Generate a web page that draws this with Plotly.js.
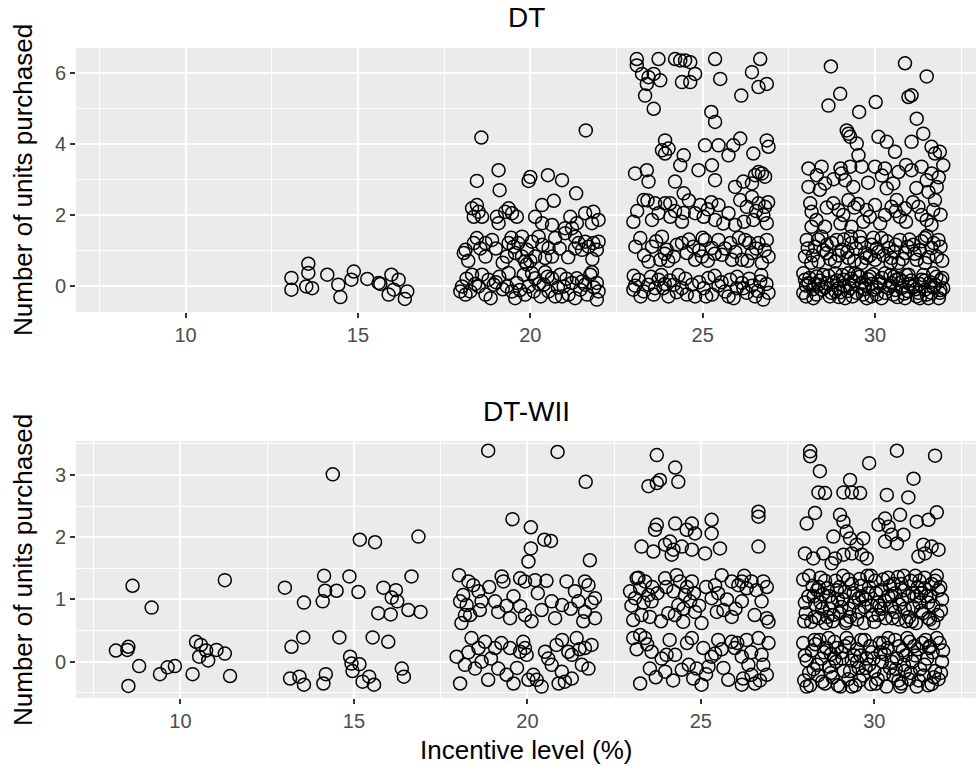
<!DOCTYPE html>
<html>
<head>
<meta charset="utf-8">
<script src="https://cdn.plot.ly/plotly-3.0.1.min.js"></script>
<style>html,body{margin:0;padding:0;background:#fff}#chart{width:976px;height:767px}</style>
</head>
<body>
<div id="chart"></div>
<script>
// ---- Tick labels ----
const xTickVals = [10, 15, 20, 25, 30];
const dtYTicks = [0, 2, 4, 6];
const wiiYTicks = [0, 1, 2, 3];

// ---- DT panel: [incentive level (%), units purchased] ----
const dtLevel15 = [[13.07,0.22],[13.07,-0.11],[13.56,0.62],[13.56,0.36],[13.5,-0.02],[13.67,-0.07],[14.11,0.31],[14.43,0.03],[14.49,-0.32],[14.88,0.4],[14.81,0.17],[15.27,0.19],[15.6,0.08],[15.65,0.05],[15.97,0.31],[16.18,0.17],[15.89,-0.25],[16.04,-0.11],[16.43,-0.16],[16.36,-0.37]];

const dtLevel20 = [[18.58,4.17],[21.61,4.37],[19.08,3.25],[18.45,2.95],[19.11,2.69],[20.0,3.06],[19.95,2.95],[20.51,3.11],[20.92,2.97],[21.33,2.6],[20.68,2.39],[20.34,2.27],
[18.31,2.18],[18.5,2.08],[18.36,1.94],[18.6,1.94],[18.45,2.27],[19.37,2.18],[19.47,2.04],[19.61,1.94],[19.27,2.08],[19.08,1.76],[19.03,1.94],
[20.14,1.94],[20.34,1.76],[20.63,1.71],[21.16,1.94],[21.35,1.76],[21.01,1.62],[21.59,2.04],[21.83,2.08],[21.98,1.85],[21.79,1.76],
[18.12,1.01],[18.07,0.92],[18.45,1.34],[18.7,1.2],[18.7,0.82],[18.89,1.29],[18.36,1.2],
[19.37,1.2],[19.52,1.1],[19.56,0.92],[19.32,0.82],[19.76,1.38],[19.9,1.01],[20.05,1.24],[20.24,1.38],[20.53,1.06],[20.43,0.78],[20.63,0.82],[20.14,0.82],[20.72,1.34],
[21.01,1.48],[21.21,1.62],[21.4,1.2],[21.59,1.24],[21.69,1.1],[21.83,1.2],[21.93,1.01],[21.5,1.01],[21.98,1.24],[21.3,1.38],
[18.2,0.7],[18.55,1.05],[19.0,1.05],[19.2,0.65],[19.65,1.2],[20.0,0.7],[20.35,1.15],[20.85,1.05],[21.1,0.8],[21.3,1.05],[21.8,0.75],[19.45,1.35],
[17.97,-0.16],[18.12,-0.25],[18.02,-0.02],[18.26,-0.16],[18.31,0.31],[18.6,0.31],[18.5,-0.02],[18.7,-0.25],[18.94,0.03],[18.79,0.17],
[19.37,0.36],[19.32,-0.02],[19.47,-0.16],[19.61,0.08],[19.56,-0.35],[19.81,0.31],[19.9,0.6],[19.95,-0.02],[20.1,-0.16],[20.14,0.21],[19.85,-0.25],[19.76,0.82],[19.85,0.68],
[20.43,0.38],[20.39,0.03],[20.53,-0.16],[20.63,0.21],[20.72,-0.3],[20.87,0.31],[20.97,-0.02],[20.92,-0.3],
[21.21,0.08],[21.35,0.21],[21.45,-0.11],[21.3,-0.35],[21.59,0.03],[21.74,0.31],[21.79,0.38],[21.93,0.08],[21.98,-0.16],[21.93,-0.39],[21.5,0.12],[21.11,-0.25],
[18.15,0.2],[18.4,0.05],[18.85,-0.35],[19.1,0.25],[19.2,-0.1],[19.7,-0.12],[20.05,0.35],[20.3,-0.3],[20.5,0.25],[20.8,-0.05],[21.05,0.2],[21.65,-0.25],[21.85,-0.05],[19.0,0.1],[20.25,0.05]];

const dtLevel25 = [[23.09,6.38],[23.09,6.2],[23.72,6.38],[24.2,6.38],[24.35,6.34],[24.49,6.34],[24.64,6.29],[24.78,5.96],[24.4,5.73],[24.64,5.73],[23.24,5.96],[23.43,5.87],[23.58,5.96],[23.77,5.78],[23.38,5.68],[23.33,5.35],[23.58,4.98],[25.36,6.38],[25.51,5.82],[26.12,5.35],[26.67,6.38],[26.43,6.01],[26.62,5.59],[26.86,5.68],[25.25,4.89],[25.36,4.61],
[23.91,4.09],[23.82,3.81],[23.91,3.72],[24.01,3.86],[24.45,3.67],[24.35,3.39],[25.07,3.95],[25.46,3.95],[25.75,3.67],[25.89,3.95],[26.09,4.14],[26.47,3.72],[26.86,4.09],[26.91,3.91],[24.88,3.25],[25.27,3.39],[25.36,2.97],
[23.04,3.16],[23.38,3.25],[23.43,2.93],[24.2,2.93],[24.45,2.6],[25.94,2.78],[26.18,2.93],[26.52,3.11],[26.72,3.16],[26.62,3.2],[26.81,3.07],[26.43,2.88],
[23.29,2.41],[22.99,1.8],[23.62,2.32],[23.91,2.32],[24.06,2.32],[23.72,2.04],[23.53,1.85],[24.06,1.94],[24.4,1.8],[24.93,2.27],[24.78,2.04],[25.03,1.94],[25.46,2.27],[25.36,1.85],[25.75,2.04],[26.09,2.41],[26.28,2.22],[26.43,2.5],[26.62,2.32],[26.81,2.22],[26.76,1.99],[26.47,1.85],[26.86,1.76],[25.94,1.71],
[23.1,2.1],[23.4,2.4],[24.2,2.1],[24.6,2.4],[25.15,2.15],[25.6,1.75],[26.2,1.8],[26.55,2.1],[26.9,2.35],[24.45,2.05],[25.25,2.35],
[23.19,1.34],[23.53,1.1],[23.43,0.68],[23.82,1.38],[23.96,1.01],[24.16,0.82],[24.4,1.2],[24.54,0.92],[24.73,1.1],[24.78,0.73],[25.07,1.29],[25.27,1.06],[25.56,0.87],[25.46,1.29],[25.8,1.2],[25.85,0.73],[26.23,1.29],[26.43,0.92],[26.62,1.2],[26.86,1.29],[26.91,0.82],[26.72,0.64],[26.14,0.73],[23.77,0.73],[24.98,0.82],
[23.05,1.1],[23.3,0.85],[23.65,1.25],[24.0,0.7],[24.25,1.15],[24.6,1.3],[24.9,1.0],[25.15,0.7],[25.35,0.9],[25.65,1.05],[25.95,0.95],[26.05,1.35],[26.3,0.7],[26.55,1.05],[26.8,1.0],[23.9,0.9],[25.0,1.35],[26.35,1.2],
[23.04,0.0],[23.14,0.17],[23.29,-0.16],[23.43,0.03],[23.58,-0.25],[23.72,0.17],[23.86,-0.07],[24.01,-0.3],[24.16,0.03],[24.4,-0.07],[24.54,-0.25],[24.78,-0.3],[24.69,0.03],[25.03,-0.07],[25.17,0.22],[25.27,-0.25],[25.46,0.0],[25.65,-0.16],[25.8,0.17],[25.99,-0.07],[26.14,0.08],[26.28,-0.2],[26.43,0.0],[26.52,-0.3],[26.67,0.12],[26.91,-0.2],[26.76,-0.39],[22.99,-0.11],[23.62,-0.07],[26.18,-0.07],
[23.2,-0.3],[23.5,0.25],[23.8,0.3],[24.05,0.15],[24.25,-0.18],[24.5,0.2],[24.9,0.1],[25.1,-0.3],[25.35,0.28],[25.55,0.1],[25.75,-0.3],[26.0,0.25],[26.35,0.2],[26.6,-0.15],[26.85,0.05],[23.0,0.28],[24.3,0.3],[25.9,-0.35],[26.7,0.3],[23.9,0.05]];

const dtLevel30 = [[28.72,6.17],[30.87,6.26],[31.5,5.89],[28.99,5.4],[28.65,5.07],[29.54,4.89],[30.02,5.17],[30.97,5.31],[31.06,5.36],[31.21,4.7],
[29.18,4.37],[29.23,4.28],[29.28,4.19],[29.47,4.0],[30.1,4.19],[30.34,4.05],[30.58,3.77],[31.06,4.05],[31.4,4.28],[31.64,3.91],[31.88,3.77],[31.98,3.39],[31.74,3.72],
[28.07,3.3],[28.45,3.35],[28.07,2.78],[28.31,3.11],[28.55,2.88],[29.03,3.16],[29.28,3.35],[29.52,3.67],[29.61,3.35],[29.13,2.97],[29.37,2.78],[30.0,3.35],[30.29,3.3],[30.68,3.2],[30.53,2.88],[31.06,3.25],[31.35,3.35],[31.5,2.97],[31.64,3.16],[31.79,2.78],[31.55,2.64],[30.34,2.74],
[28.4,2.7],[29.8,2.9],[30.2,3.1],[31.2,2.75],[29.0,3.3],[31.85,3.05],[30.9,3.4],[28.8,3.0],
[28.12,2.32],[28.16,2.08],[28.55,1.66],[28.79,2.32],[28.94,2.13],[29.08,1.99],[29.23,2.41],[29.76,2.13],[29.85,1.94],[30.0,2.27],[29.66,1.8],[30.29,1.99],[30.48,2.22],[30.63,2.41],[30.72,1.94],[30.87,2.18],[31.26,2.22],[31.35,1.99],[31.5,1.85],[31.69,2.13],[31.74,2.41],[31.64,1.71],[28.16,1.66],[29.32,1.66],
[28.3,1.85],[28.6,2.2],[29.0,1.75],[29.5,2.3],[30.15,1.75],[30.9,1.8],[31.1,2.35],[31.9,2.0],[29.4,2.2],[30.6,2.1],
[28.02,1.29],[27.97,0.82],[28.26,1.1],[28.45,1.38],[28.6,0.92],[28.36,0.68],[28.89,1.29],[29.03,1.01],[29.23,0.78],[29.32,1.2],[29.56,1.38],[29.71,0.92],[29.9,1.15],[30.0,0.73],[30.19,1.34],[30.39,1.06],[30.48,0.78],[30.72,1.29],[30.87,0.92],[31.11,1.15],[31.21,0.73],[31.45,1.34],[31.64,1.06],[31.79,0.82],[31.84,1.29],[28.84,0.68],[29.61,0.64],[30.68,0.64],[31.45,0.64],
[28.2,0.85],[28.75,1.2],[29.45,1.05],[30.1,0.95],[30.6,1.15],[31.3,1.0],[31.9,1.1],[29.85,0.85],[28.5,1.0],[31.0,1.3],
[28.05,1.05],[28.15,0.65],[28.35,1.3],[28.6,1.15],[28.7,0.75],[28.95,0.85],[29.1,1.3],[29.2,0.95],[29.4,0.7],[29.6,1.2],[29.75,0.78],[29.95,1.35],[30.05,1.05],[30.25,0.85],[30.35,1.25],[30.55,0.95],[30.8,0.75],[30.95,1.1],[31.15,0.9],[31.35,1.25],[31.55,0.8],[31.7,1.2],[31.95,0.7],[31.5,1.4],[29.3,1.38],[30.45,0.65],
[27.92,0.35],[27.92,-0.2],[28.07,0.07],[28.21,-0.35],[28.31,0.26],[28.45,-0.11],[28.6,0.07],[28.69,-0.3],[28.84,0.35],[28.94,-0.07],[29.08,0.17],[29.13,-0.35],[29.28,-0.07],[29.42,0.35],[29.47,-0.2],[29.61,0.07],[29.76,-0.35],[29.85,0.26],[29.95,-0.11],[30.1,0.12],[30.19,-0.35],[30.29,0.35],[30.39,-0.07],[30.53,-0.25],[30.63,0.17],[30.77,-0.07],[30.87,-0.35],[30.97,0.31],[31.11,-0.02],[31.21,-0.3],[31.35,0.17],[31.45,-0.11],[31.55,-0.35],[31.69,0.35],[31.74,0.03],[31.88,-0.2],[31.98,-0.07],[27.97,0.17],[28.36,0.03],[28.74,-0.2],[29.23,0.35],[29.71,0.03],[30.48,0.07],[31.26,-0.2],[31.64,-0.2],
[28.0,-0.3],[28.5,0.3],[28.9,0.15],[29.35,-0.3],[29.9,0.05],[30.45,0.3],[30.95,-0.15],[31.4,0.3],[31.9,0.15],[28.25,0.05],[29.55,0.25],[30.7,0.2],[31.3,-0.35],[29.0,-0.18],[30.05,-0.25],
[28.1,0.22],[28.3,-0.25],[28.55,-0.05],[28.65,0.28],[28.8,0.1],[28.95,-0.32],[29.1,0.0],[29.2,-0.15],[29.38,0.12],[29.5,0.3],[29.65,-0.25],[29.8,0.18],[29.95,0.32],[30.05,-0.05],[30.2,0.22],[30.3,-0.2],[30.42,0.0],[30.55,0.25],[30.65,-0.32],[30.8,0.12],[30.9,0.3],[31.05,0.15],[31.18,-0.1],[31.3,0.05],[31.5,-0.25],[31.6,0.1],[31.78,0.25],[31.85,-0.35],[31.95,0.22],[28.0,0.0],[28.4,0.15],[28.85,-0.15],[29.3,0.2],[29.7,-0.1],[30.15,0.05],[30.6,-0.12],[31.0,0.05],[31.45,0.15],[31.9,-0.12],[28.2,-0.1],[29.05,0.3],[29.9,-0.3],[30.85,-0.22],[31.7,-0.05]];

// ---- DT-WII panel ----
const wiiLevel10 = [[8.14,0.18],[8.47,0.19],[8.5,0.24],[8.62,1.22],[8.5,-0.39],[8.81,-0.07],[9.17,0.87],[9.41,-0.2],[9.63,-0.09],[9.84,-0.07],[10.35,-0.2],[10.45,0.32],[10.59,0.27],[10.54,0.08],[10.74,0.18],[10.8,0.02],[11.04,0.19],[11.28,0.13],[11.28,1.31],[11.43,-0.23]];

const wiiLevel15 = [[14.39,3.01],[15.17,1.96],[15.61,1.92],[16.86,2.01],[13.01,1.19],[14.14,1.38],[14.17,1.14],[14.5,1.14],[14.1,0.97],[13.56,0.95],[14.87,1.37],[15.13,1.12],[15.85,1.19],[16.21,1.15],[16.09,1.03],[16.25,0.97],[16.66,1.37],[16.57,0.83],[16.92,0.8],[15.7,0.78],[16.06,0.76],
[13.54,0.39],[13.2,0.24],[14.58,0.39],[15.54,0.39],[15.99,0.32],[14.89,0.08],[14.93,-0.03],[15.16,-0.04],[14.96,-0.15],[13.16,-0.27],[13.43,-0.24],[13.56,-0.37],[14.19,-0.2],[14.12,-0.35],[15.25,-0.32],[15.44,-0.24],[15.58,-0.37],[16.38,-0.11],[16.44,-0.24]];

const wiiLevel20 = [[18.87,3.39],[20.87,3.37],[21.68,2.89],[19.57,2.29],[20.1,2.16],[20.49,1.96],[20.68,1.94],[20.1,1.82],[20.03,1.61],[21.8,1.63],
[18.03,1.39],[18.3,1.29],[18.44,1.23],[18.59,1.13],[18.15,1.07],[18.06,0.97],[18.25,0.91],[18.2,0.75],[18.1,0.62],[18.63,0.83],[19.26,1.37],[19.31,1.29],[19.07,0.97],[19.16,0.8],[19.5,0.7],[19.79,1.34],[19.93,1.29],[20.22,1.31],[19.79,0.89],[19.93,0.75],[20.12,0.65],[20.41,0.83],[20.7,0.97],[20.8,0.7],[21.0,0.91],[21.13,1.29],[21.37,1.13],[21.66,1.29],[21.76,1.23],[21.47,0.97],[21.95,1.02],[21.66,0.8],[21.95,0.7],[21.61,0.65],[18.68,0.97],
[18.35,0.75],[18.9,1.2],[19.6,1.05],[20.3,1.1],[20.55,1.3],[21.25,0.85],[21.85,0.95],[19.4,0.9],
[17.96,0.08],[18.2,-0.05],[18.06,-0.35],[18.39,0.38],[18.59,0.22],[18.78,0.32],[18.49,-0.11],[18.68,0.0],[18.87,-0.29],[19.07,0.22],[19.16,-0.11],[19.4,-0.21],[19.5,0.22],[19.79,0.16],[19.93,0.22],[19.98,0.11],[20.03,-0.29],[19.88,0.32],[20.27,-0.29],[20.41,-0.4],[20.51,0.16],[20.7,-0.05],[20.84,0.27],[20.99,-0.16],[21.08,-0.32],[21.18,0.16],[21.28,0.11],[21.42,0.38],[21.57,-0.05],[21.66,0.22],[21.85,0.27],[21.76,-0.11],[21.28,-0.27],[20.17,-0.21],
[18.3,0.15],[18.95,0.05],[19.25,0.3],[19.7,-0.1],[20.6,0.05],[21.0,0.35],[21.5,0.2],[20.9,-0.35],[19.6,-0.35]];

const wiiLevel25 = [[23.73,3.32],[24.26,3.12],[23.49,2.82],[23.73,2.87],[23.82,2.92],[24.35,2.89],[26.66,2.41],[26.66,2.33],[26.66,1.85],
[23.73,2.2],[23.68,2.12],[24.26,2.22],[24.74,2.22],[24.59,2.12],[24.83,2.06],[25.31,2.28],[25.31,2.06],[23.29,1.85],[23.63,1.77],[23.97,1.88],[24.11,1.93],[24.21,1.8],[24.16,1.72],[24.45,1.85],[24.74,1.8],[25.12,1.74],[25.55,1.82],
[23.15,1.34],[23.39,1.29],[22.96,1.13],[23.1,1.02],[23.25,1.18],[23.49,1.07],[23.58,0.97],[23.05,0.67],[23.29,0.75],[23.53,0.72],[23.97,1.34],[24.3,1.39],[24.4,1.29],[24.21,1.13],[24.06,0.78],[24.35,0.91],[24.49,0.64],[24.54,1.07],[24.69,0.97],[24.74,1.29],[24.83,0.8],[25.02,0.62],[25.31,1.02],[25.41,1.23],[25.6,1.39],[25.46,0.8],[25.65,0.83],[25.89,1.29],[26.08,1.23],[26.18,1.29],[26.32,1.18],[26.46,1.29],[26.18,0.97],[25.89,0.72],[26.75,0.97],[26.9,0.7],[26.8,1.29],[26.95,0.64],
[23.0,0.9],[23.2,1.35],[23.35,0.95],[23.6,1.2],[23.75,1.1],[23.85,0.65],[24.0,1.2],[24.25,0.75],[24.6,1.2],[24.8,1.1],[24.95,0.9],[25.15,1.2],[25.5,1.1],[25.75,1.0],[26.0,0.85],[26.25,1.38],[26.55,0.75],[26.6,1.15],[26.9,1.2],[24.5,0.85],
[23.05,0.38],[23.25,0.43],[23.39,0.38],[23.58,0.16],[23.87,0.05],[24.01,0.11],[24.26,0.11],[23.53,-0.11],[23.97,-0.16],[23.25,-0.35],[24.45,-0.13],[24.74,0.38],[24.88,-0.11],[24.78,-0.27],[25.02,-0.37],[25.07,0.22],[25.31,0.08],[25.41,0.13],[25.5,0.35],[25.22,-0.08],[25.79,-0.29],[25.89,0.32],[25.98,0.22],[26.18,0.08],[26.32,0.35],[26.37,-0.05],[26.22,-0.27],[26.18,-0.37],[26.46,-0.21],[26.66,0.38],[26.75,0.11],[26.9,-0.21],[26.56,-0.35],[26.8,-0.05],
[23.15,0.2],[23.45,0.28],[23.7,-0.25],[24.2,-0.3],[24.6,0.3],[24.65,-0.05],[25.15,-0.2],[25.6,0.2],[25.65,-0.1],[26.05,0.3],[26.45,0.15],[26.7,-0.3],[26.95,0.3],[24.1,0.35]];

const wiiLevel30 = [[28.15,3.38],[28.15,3.3],[30.65,3.39],[31.75,3.31],[29.85,3.19],[28.43,3.06],[31.13,2.94],[29.3,2.92],[28.39,2.72],[28.58,2.71],[29.11,2.72],[29.35,2.72],[29.59,2.71],[30.36,2.68],[30.98,2.64],
[28.05,2.22],[28.29,2.39],[29.01,2.36],[29.11,2.25],[28.82,2.01],[29.2,2.09],[29.3,1.98],[29.68,1.98],[29.49,1.88],[30.12,2.2],[30.31,2.3],[30.41,2.17],[30.74,2.36],[30.5,2.04],[30.65,1.9],[30.84,2.04],[30.31,1.93],[31.22,2.25],[31.56,2.28],[31.8,2.4],[31.41,1.88],[31.65,1.85],[31.85,1.8],[31.27,1.69],[31.46,1.74],
[28.0,1.74],[28.24,1.66],[28.53,1.74],[28.87,1.66],[29.11,1.72],[29.35,1.74],[29.64,1.72],[28.77,1.58],[29.78,1.66],
[27.95,1.32],[28.1,1.05],[28.02,0.78],[28.22,1.22],[28.3,0.92],[28.18,0.64],[28.45,1.35],[28.52,1.08],[28.4,0.7],[28.65,1.18],[28.72,0.85],[28.6,0.62],[28.88,1.3],[28.95,1.0],[28.82,0.75],[29.1,1.38],[29.15,1.12],[29.05,0.88],[29.2,0.66],[29.35,1.25],[29.42,0.95],[29.3,0.72],[29.58,1.33],[29.65,1.05],[29.55,0.8],[29.7,0.62],[29.85,1.2],[29.92,0.9],[29.8,1.38],[30.05,1.1],[30.12,0.75],[30.0,0.64],[30.25,1.32],[30.3,0.98],[30.2,0.85],[30.45,1.22],[30.52,0.7],[30.4,1.05],[30.68,1.36],[30.72,0.92],[30.6,0.8],[30.85,1.15],[30.92,0.65],[30.8,1.0],[31.05,1.3],[31.12,0.88],[31.0,0.72],[31.25,1.2],[31.3,0.95],[31.2,0.62],[31.45,1.35],[31.5,1.05],[31.4,0.78],[31.65,1.25],[31.7,0.9],[31.6,0.68],[31.85,1.15],[31.92,0.82],[31.8,1.38],[31.95,1.0],[28.35,1.15],[29.0,1.2],[29.75,1.0],[30.55,1.25],[31.35,1.1],[28.78,0.95],[30.15,0.9],[31.55,0.95],
[28.0,0.95],[28.12,1.38],[28.28,0.72],[28.4,1.2],[28.5,0.85],[28.58,1.3],[28.7,1.05],[28.8,0.65],[28.92,1.15],[29.0,0.78],[29.1,1.0],[29.25,1.32],[29.28,0.85],[29.4,1.1],[29.5,0.68],[29.62,1.22],[29.72,0.88],[29.82,1.1],[29.95,0.75],[30.02,1.3],[30.1,0.95],[30.2,1.15],[30.32,0.7],[30.4,1.35],[30.48,0.88],[30.6,1.1],[30.7,0.68],[30.78,1.25],[30.88,0.85],[30.98,1.05],[31.08,0.65],[31.18,1.38],[31.22,1.05],[31.35,0.82],[31.45,1.18],[31.55,0.7],[31.62,1.05],[31.75,1.3],[31.82,0.75],[31.9,1.2],[27.98,0.65],[28.25,1.05],[28.65,0.72],[29.18,0.62],[29.9,1.38],[30.5,1.05],[31.1,1.1],[31.7,0.62],[28.45,0.95],[29.55,1.02],[30.85,1.38],[31.3,1.3],
[27.95,0.3],[28.05,0.02],[27.98,-0.3],[28.2,0.18],[28.25,-0.12],[28.15,-0.38],[28.42,0.35],[28.48,0.05],[28.38,-0.22],[28.62,0.22],[28.7,-0.08],[28.58,-0.35],[28.85,0.32],[28.9,0.0],[28.8,-0.25],[29.05,0.15],[29.12,-0.15],[29.02,-0.4],[29.28,0.3],[29.35,0.02],[29.25,-0.28],[29.5,0.2],[29.55,-0.1],[29.45,-0.38],[29.72,0.35],[29.78,0.05],[29.68,-0.22],[29.92,0.15],[30.0,-0.15],[29.9,-0.36],[30.15,0.3],[30.22,0.0],[30.1,-0.28],[30.38,0.22],[30.45,-0.1],[30.35,-0.4],[30.6,0.35],[30.65,0.05],[30.55,-0.22],[30.82,0.18],[30.88,-0.15],[30.78,-0.35],[31.02,0.32],[31.1,0.0],[31.0,-0.28],[31.25,0.2],[31.32,-0.12],[31.22,-0.4],[31.48,0.35],[31.52,0.05],[31.42,-0.22],[31.68,0.15],[31.75,-0.15],[31.65,-0.36],[31.88,0.3],[31.95,0.0],[31.85,-0.28],[28.3,0.28],[29.15,0.25],[29.6,0.1],[30.3,0.12],[31.15,0.25],[31.6,0.25],[28.75,0.12],[30.7,-0.3],[29.85,-0.05],
[28.0,0.1],[28.12,-0.18],[28.28,0.35],[28.35,-0.05],[28.5,-0.32],[28.55,0.15],[28.68,0.38],[28.75,-0.18],[28.92,0.22],[28.95,-0.38],[29.08,0.05],[29.2,0.38],[29.3,-0.15],[29.42,0.1],[29.58,-0.3],[29.62,0.35],[29.75,-0.1],[29.88,0.25],[29.98,0.05],[30.05,-0.35],[30.18,0.15],[30.28,-0.2],[30.4,0.38],[30.5,0.0],[30.62,-0.12],[30.72,0.25],[30.85,-0.05],[30.95,0.38],[31.05,-0.18],[31.18,0.1],[31.28,-0.3],[31.38,0.3],[31.45,-0.05],[31.58,0.22],[31.72,-0.25],[31.8,0.38],[31.92,-0.18],[28.05,-0.4],[28.85,0.05],[29.5,0.0],[30.25,0.3],[30.9,0.1],[31.55,-0.38],[29.35,-0.4],[30.75,-0.4],[31.98,0.18]];

// ---- build traces ----
const dtAll = [].concat(dtLevel15, dtLevel20, dtLevel25, dtLevel30);
const wiiAll = [].concat(wiiLevel10, wiiLevel15, wiiLevel20, wiiLevel25, wiiLevel30);

const markerStyle = {symbol: 'circle-open', size: 13, color: '#000000', line: {width: 1.5, color: '#000000'}};

const traces = [
  {type: 'scatter', mode: 'markers', name: 'DT', x: dtAll.map(p => p[0]), y: dtAll.map(p => p[1]), xaxis: 'x', yaxis: 'y', marker: markerStyle, hoverinfo: 'x+y'},
  {type: 'scatter', mode: 'markers', name: 'DT-WII', x: wiiAll.map(p => p[0]), y: wiiAll.map(p => p[1]), xaxis: 'x2', yaxis: 'y2', marker: markerStyle, hoverinfo: 'x+y'}
];

const FONT = 'Liberation Sans, Arial, Helvetica, sans-serif';
function xAxisDef(anchor, range) {
  return {
    anchor: anchor, domain: [0, 1], range: range,
    tickmode: 'array', tickvals: xTickVals, ticktext: xTickVals.map(String),
    ticks: 'outside', ticklen: 5, tickwidth: 1.5, tickcolor: '#333333',
    tickfont: {family: FONT, size: 20, color: '#4D4D4D'},
    showgrid: true, gridcolor: '#FFFFFF', gridwidth: 2,
    minor: {dtick: 2.5, tick0: 0, showgrid: true, gridcolor: '#FFFFFF', gridwidth: 1, ticks: ''},
    zeroline: false, showline: false, fixedrange: true
  };
}
function yAxisDef(anchor, domain, range, ticks, minorStep) {
  return {
    anchor: anchor, domain: domain, range: range,
    tickmode: 'array', tickvals: ticks, ticktext: ticks.map(String),
    ticks: 'outside', ticklen: 5, tickwidth: 1.5, tickcolor: '#333333',
    tickfont: {family: FONT, size: 20, color: '#4D4D4D'},
    showgrid: true, gridcolor: '#FFFFFF', gridwidth: 2,
    minor: {dtick: minorStep, tick0: minorStep / 2, showgrid: true, gridcolor: '#FFFFFF', gridwidth: 1, ticks: ''},
    zeroline: false, showline: false, fixedrange: true
  };
}

const layout = {
  width: 976, height: 767,
  margin: {l: 76, r: 0, t: 48, b: 69, pad: 0},
  paper_bgcolor: '#FFFFFF', plot_bgcolor: '#EBEBEB',
  showlegend: false,
  font: {family: FONT, color: '#000000'},
  xaxis: xAxisDef('y', [6.82, 32.93]),
  yaxis: yAxisDef('x', [0.5938, 1], [-0.74, 6.69], dtYTicks, 2),
  xaxis2: xAxisDef('y2', [6.99, 32.93]),
  yaxis2: yAxisDef('x2', [0, 0.3954], [-0.583, 3.546], wiiYTicks, 1),
  annotations: [
    {text: 'DT', xref: 'paper', yref: 'paper', x: 0.5, y: (698 - 18) / 650, xanchor: 'center', yanchor: 'middle', showarrow: false, font: {family: FONT, size: 28, color: '#000'}},
    {text: 'DT-WII', xref: 'paper', yref: 'paper', x: 0.5, y: (698 - 411) / 650, xanchor: 'center', yanchor: 'middle', showarrow: false, font: {family: FONT, size: 28, color: '#000'}},
    {text: 'Number of units purchased', xref: 'paper', yref: 'paper', x: -0.0589, y: (698 - 180) / 650, xanchor: 'center', yanchor: 'middle', textangle: -90, showarrow: false, font: {family: FONT, size: 26, color: '#000'}},
    {text: 'Number of units purchased', xref: 'paper', yref: 'paper', x: -0.0589, y: (698 - 570) / 650, xanchor: 'center', yanchor: 'middle', textangle: -90, showarrow: false, font: {family: FONT, size: 26, color: '#000'}},
    {text: 'Incentive level (%)', xref: 'paper', yref: 'paper', x: 0.5, y: -0.08, xanchor: 'center', yanchor: 'middle', showarrow: false, font: {family: FONT, size: 26, color: '#000'}}
  ]
};

Plotly.newPlot('chart', traces, layout, {displayModeBar: false, responsive: false});
</script>
</body>
</html>
